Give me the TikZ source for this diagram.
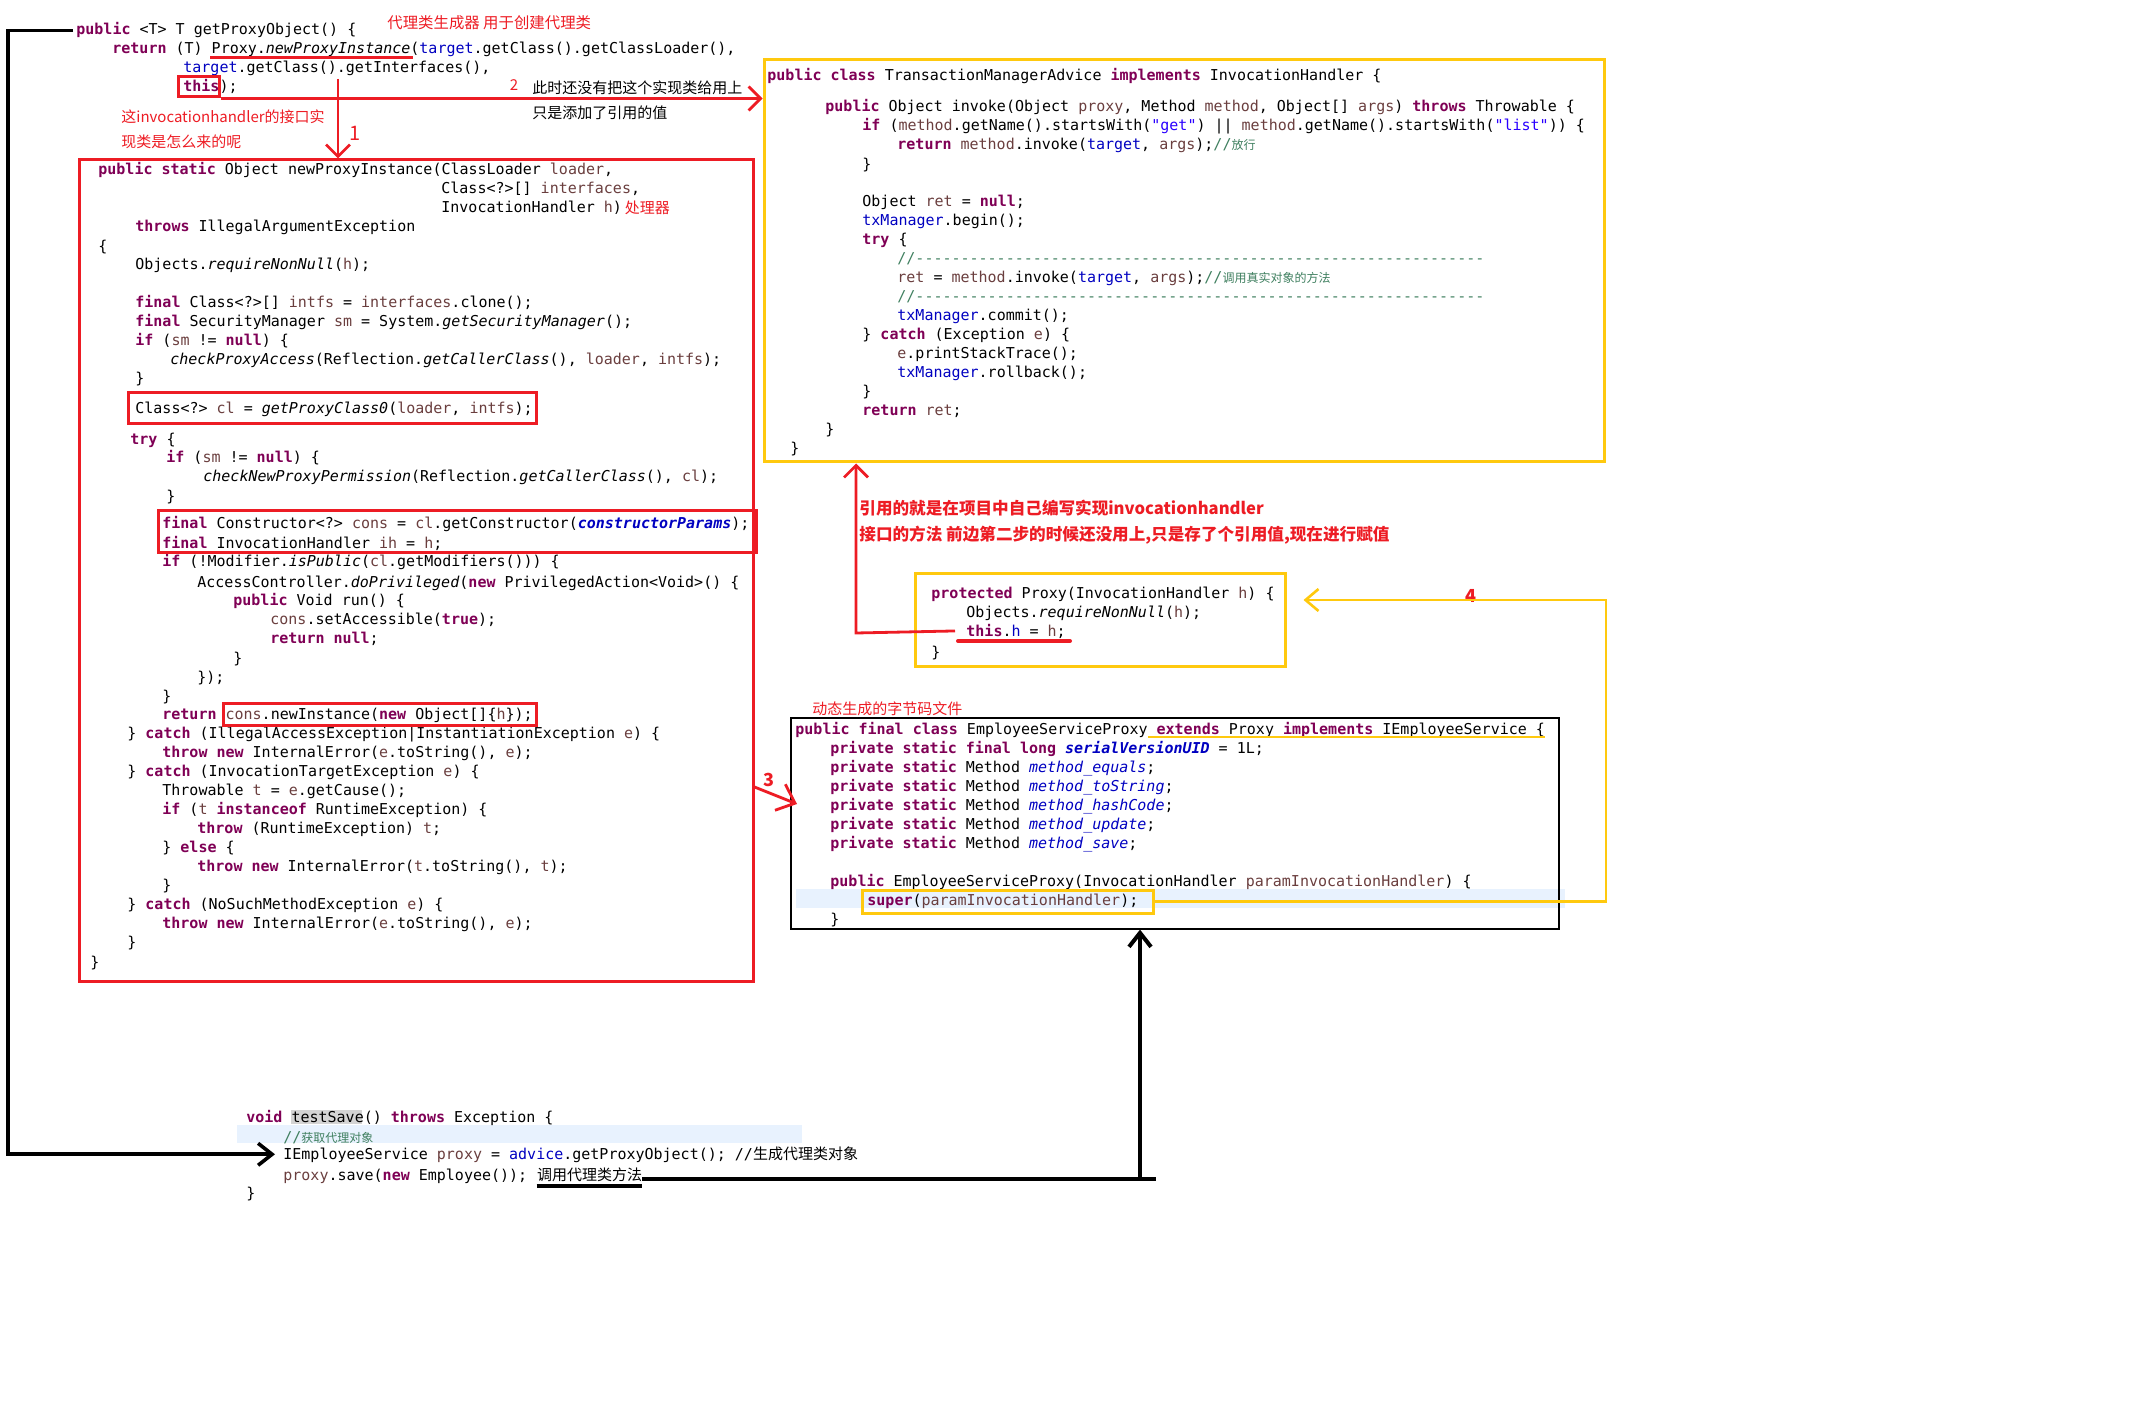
\documentclass[tikz,border=0pt]{standalone}
\usepackage{fontspec}
\setmonofont{DejaVu Sans Mono}
\newfontfamily\cjk{Noto Sans CJK SC}
\usepackage{tikz}
\usetikzlibrary{positioning,fit,arrows.meta}

\definecolor{markred}{RGB}{237,28,36}
\definecolor{markyellow}{RGB}{255,201,14}
\definecolor{jkey}{RGB}{127,0,85}
\definecolor{jvar}{RGB}{106,62,62}
\definecolor{jfield}{RGB}{0,0,192}
\definecolor{jcom}{RGB}{63,127,95}
\definecolor{jstr}{RGB}{42,0,255}
\definecolor{lineband}{RGB}{232,242,254}
\definecolor{wordband}{RGB}{212,212,212}

\newcommand{\cdkw}[1]{\textcolor{jkey}{\bfseries #1}}
\newcommand{\cdvar}[1]{\textcolor{jvar}{#1}}
\newcommand{\cdfld}[1]{\textcolor{jfield}{#1}}
\newcommand{\cdcom}[1]{\textcolor{jcom}{#1}}
\newcommand{\cdstr}[1]{\textcolor{jstr}{#1}}
\newcommand{\cdcn}[1]{{\cjk\fontsize{6pt}{8pt}\selectfont #1}}
\newcommand{\dashline}{//---------------------------------------------------------------}

\tikzset{
	code/.style={anchor=base west, inner sep=0pt, font=\ttfamily\fontsize{7.5pt}{9.5pt}\selectfont},
	note/.style={anchor=west, inner sep=0pt, font=\cjk\fontsize{7.5pt}{9.5pt}\selectfont},
	rednote/.style={note, text=markred},
	stepnum/.style={inner sep=0pt, font=\cjk\fontsize{9pt}{10pt}\selectfont},
	redbox/.style={draw=markred, line width=1.5pt, inner sep=0pt},
	yellowbox/.style={draw=markyellow, line width=1.5pt, inner sep=0pt},
	plainbox/.style={draw=black, line width=0.6pt, inner sep=0pt},
	redarrow/.style={draw=markred, line width=1.4pt, -{Straight Barb[length=6pt,width=12pt]}},
	yellowarrow/.style={draw=markyellow, line width=1.3pt, -{Straight Barb[length=6.5pt,width=11pt]}},
	blackarrow/.style={draw=black, line width=2pt, -{Straight Barb[length=7pt,width=11pt]}},
}

\begin{document}
\begin{tikzpicture}[x=0.5pt, y=-0.5pt]
	\useasboundingbox (0,0) rectangle (2140,1422);
	
	% Highlights behind the code
	\fill[lineband] (796,889) rectangle (1565,908);
	\fill[lineband] (237,1125) rectangle (802,1143);
	\fill[wordband] (291,1110) rectangle (362,1124);
	
	% getProxyObject
	\node[code] (gp1) at (76,35) {\cdkw{public} <T> T getProxyObject() \{};
	\node[code] (gp2) at (112,54) {\cdkw{return} (T) Proxy.\textit{newProxyInstance}(\cdfld{target}.getClass().getClassLoader(),};
	\node[code] (gp3) at (183,73) {\cdfld{target}.getClass().getInterfaces(),};
	\node[code] (gp4) at (183,92) {\cdkw{this});};
	\node[rednote, font=\cjk\fontsize{7.7pt}{10pt}\selectfont] (gennote) at (387,23) {代理类生成器 用于创建代理类};
	\node[rednote] (whynote1) at (121,117) {这invocationhandler的接口实};
	\node[rednote] (whynote2) at (121,142) {现类是怎么来的呢};
	\node[note] (step2a) at (532,88) {此时还没有把这个实现类给用上};
	\node[note] (step2b) at (532,113) {只是添加了引用的值};
	\draw[markred, line width=1.5pt] (210,58) -- (413,58);
	
	% Proxy.newProxyInstance
	\node[code] (np1) at (98,175) {\cdkw{public static} Object newProxyInstance(ClassLoader \cdvar{loader},};
	\node[code] (np2) at (441,194) {Class<?>[] \cdvar{interfaces},};
	\node[code] (np3) at (441,213) {InvocationHandler \cdvar{h})};
	\node[rednote, right=1pt of np3] (hnote) {处理器};
	\node[code] (np4) at (135,232) {\cdkw{throws} IllegalArgumentException};
	\node[code] (np5) at (98,252) {\{};
	\node[code] (np6) at (135,270) {Objects.\textit{requireNonNull}(\cdvar{h});};
	\node[code] (np7) at (135,308) {\cdkw{final} Class<?>[] \cdvar{intfs} = \cdvar{interfaces}.clone();};
	\node[code] (np8) at (135,327) {\cdkw{final} SecurityManager \cdvar{sm} = System.\textit{getSecurityManager}();};
	\node[code] (np9) at (135,346) {\cdkw{if} (\cdvar{sm} != \cdkw{null}) \{};
	\node[code] (np10) at (170,365) {\textit{checkProxyAccess}(Reflection.\textit{getCallerClass}(), \cdvar{loader}, \cdvar{intfs});};
	\node[code] (np11) at (135,384) {\}};
	\node[code] (np12) at (135,414) {Class<?> \cdvar{cl} = \textit{getProxyClass0}(\cdvar{loader}, \cdvar{intfs});};
	\node[code] (np13) at (130,445) {\cdkw{try} \{};
	\node[code] (np14) at (166,463) {\cdkw{if} (\cdvar{sm} != \cdkw{null}) \{};
	\node[code] (np15) at (203,482) {\textit{checkNewProxyPermission}(Reflection.\textit{getCallerClass}(), \cdvar{cl});};
	\node[code] (np16) at (166,502) {\}};
	\node[code] (np17) at (162,529) {\cdkw{final} Constructor<?> \cdvar{cons} = \cdvar{cl}.getConstructor(\textcolor{jfield}{\bfseries\itshape constructorParams});};
	\node[code] (np18) at (162,548) {\cdkw{final} InvocationHandler \cdvar{ih} = \cdvar{h};};
	\node[code] (np19) at (162,567) {\cdkw{if} (!Modifier.\textit{isPublic}(\cdvar{cl}.getModifiers())) \{};
	\node[code] (np20) at (197,587) {AccessController.\textit{doPrivileged}(\cdkw{new} PrivilegedAction<Void>() \{};
	\node[code] (np21) at (233,605) {\cdkw{public} Void run() \{};
	\node[code] (np22) at (270,624) {\cdvar{cons}.setAccessible(\cdkw{true});};
	\node[code] (np23) at (270,643) {\cdkw{return null};};
	\node[code] (np24) at (233,663) {\}};
	\node[code] (np25) at (197,682) {\});};
	\node[code] (np26) at (162,701) {\}};
	\node[code] (np27) at (162,719) {\cdkw{return} \cdvar{cons}.newInstance(\cdkw{new} Object[]\{\cdvar{h}\});};
	\node[code] (np28) at (127,738) {\} \cdkw{catch} (IllegalAccessException|InstantiationException \cdvar{e}) \{};
	\node[code] (np29) at (162,757) {\cdkw{throw new} InternalError(\cdvar{e}.toString(), \cdvar{e});};
	\node[code] (np30) at (127,776) {\} \cdkw{catch} (InvocationTargetException \cdvar{e}) \{};
	\node[code] (np31) at (162,795) {Throwable \cdvar{t} = \cdvar{e}.getCause();};
	\node[code] (np32) at (162,814) {\cdkw{if} (\cdvar{t} \cdkw{instanceof} RuntimeException) \{};
	\node[code] (np33) at (197,833) {\cdkw{throw} (RuntimeException) \cdvar{t};};
	\node[code] (np34) at (162,852) {\} \cdkw{else} \{};
	\node[code] (np35) at (197,871) {\cdkw{throw new} InternalError(\cdvar{t}.toString(), \cdvar{t});};
	\node[code] (np36) at (162,890) {\}};
	\node[code] (np37) at (127,909) {\} \cdkw{catch} (NoSuchMethodException \cdvar{e}) \{};
	\node[code] (np38) at (162,928) {\cdkw{throw new} InternalError(\cdvar{e}.toString(), \cdvar{e});};
	\node[code] (np39) at (127,947) {\}};
	\node[code] (np40) at (90,967) {\}};
	
	% TransactionManagerAdvice
	\node[code] (ta1) at (767,81) {\cdkw{public class} TransactionManagerAdvice \cdkw{implements} InvocationHandler \{};
	\node[code] (ta2) at (825,112) {\cdkw{public} Object invoke(Object \cdvar{proxy}, Method \cdvar{method}, Object[] \cdvar{args}) \cdkw{throws} Throwable \{};
	\node[code] (ta3) at (862,131) {\cdkw{if} (\cdvar{method}.getName().startsWith(\cdstr{"get"}) || \cdvar{method}.getName().startsWith(\cdstr{"list"})) \{};
	\node[code] (ta4) at (897,150) {\cdkw{return} \cdvar{method}.invoke(\cdfld{target}, \cdvar{args});\cdcom{//\cdcn{放行}}};
	\node[code] (ta5) at (862,170) {\}};
	\node[code] (ta6) at (862,207) {Object \cdvar{ret} = \cdkw{null};};
	\node[code] (ta7) at (862,226) {\cdfld{txManager}.begin();};
	\node[code] (ta8) at (862,245) {\cdkw{try} \{};
	\node[code] (ta9) at (897,264) {\cdcom{\dashline}};
	\node[code] (ta10) at (897,283) {\cdvar{ret} = \cdvar{method}.invoke(\cdfld{target}, \cdvar{args});\cdcom{//\cdcn{调用真实对象的方法}}};
	\node[code] (ta11) at (897,302) {\cdcom{\dashline}};
	\node[code] (ta12) at (897,321) {\cdfld{txManager}.commit();};
	\node[code] (ta13) at (862,340) {\} \cdkw{catch} (Exception \cdvar{e}) \{};
	\node[code] (ta14) at (897,359) {\cdvar{e}.printStackTrace();};
	\node[code] (ta15) at (897,378) {\cdfld{txManager}.rollback();};
	\node[code] (ta16) at (862,397) {\}};
	\node[code] (ta17) at (862,416) {\cdkw{return} \cdvar{ret};};
	\node[code] (ta18) at (825,435) {\}};
	\node[code] (ta19) at (790,454) {\}};
	\node[rednote, font=\cjk\bfseries\fontsize{8.3pt}{10pt}\selectfont] (refnote1) at (859,508) {引用的就是在项目中自己编写实现invocationhandler};
	\node[rednote, font=\cjk\bfseries\fontsize{8.3pt}{10pt}\selectfont] (refnote2) at (859,535) {接口的方法 前边第二步的时候还没用上,只是存了个引用值,现在进行赋值};
	
	% Proxy constructor
	\node[code] (pc1) at (931,598) {\cdkw{protected} Proxy(InvocationHandler \cdvar{h}) \{};
	\node[code] (pc2) at (966,617) {Objects.\textit{requireNonNull}(\cdvar{h});};
	\node[code] (pc3) at (966,636) {\cdkw{this}.\cdfld{h} = \cdvar{h};};
	\node[code] (pc4) at (931,657) {\}};
	\draw[markred, line width=2pt, line cap=round] (958,641) -- (1070,641);
	
	% EmployeeServiceProxy
	\node[rednote] (bytenote) at (812,709) {动态生成的字节码文件};
	\node[code] (ep1) at (795,734) {\cdkw{public final class} EmployeeServiceProxy \cdkw{extends} Proxy \cdkw{implements} IEmployeeService \{};
	\node[code] (ep2) at (830,753) {\cdkw{private static final long} \textcolor{jfield}{\bfseries\itshape serialVersionUID} = 1L;};
	\node[code] (ep3) at (830,772) {\cdkw{private static} Method \textcolor{jfield}{\itshape method\_equals};};
	\node[code] (ep4) at (830,791) {\cdkw{private static} Method \textcolor{jfield}{\itshape method\_toString};};
	\node[code] (ep5) at (830,810) {\cdkw{private static} Method \textcolor{jfield}{\itshape method\_hashCode};};
	\node[code] (ep6) at (830,829) {\cdkw{private static} Method \textcolor{jfield}{\itshape method\_update};};
	\node[code] (ep7) at (830,848) {\cdkw{private static} Method \textcolor{jfield}{\itshape method\_save};};
	\node[code] (ep8) at (830,886) {\cdkw{public} EmployeeServiceProxy(InvocationHandler \cdvar{paramInvocationHandler}) \{};
	\node[code] (ep9) at (867,905) {\cdkw{super}(\cdvar{paramInvocationHandler});};
	\node[code] (ep10) at (830,924) {\}};
	\draw[markyellow, line width=1.3pt] (1148,737) -- (1545,737);
	
	% testSave
	\node[code] (ts1) at (246,1122) {\cdkw{void} testSave() \cdkw{throws} Exception \{};
	\node[code] (ts2) at (283,1142) {\cdcom{//\cdcn{获取代理对象}}};
	\node[code] (ts3) at (283,1159) {IEmployeeService \cdvar{proxy} = \cdfld{advice}.getProxyObject(); //{\cjk\fontsize{7.5pt}{9.5pt}\selectfont 生成代理类对象}};
	\node[code] (ts4) at (283,1180) {\cdvar{proxy}.save(\cdkw{new} Employee());};
	\node[note, right=4.5pt of ts4.base east, anchor=base west] (callnote) {调用代理类方法};
	\node[code] (ts5) at (246,1198) {\}};
	
	% Boxes
	\node[redbox, fit={(178,77) (219,97)}] (thisbox) {};
	\node[redbox, fit={(79,160) (753,981)}] (npbox) {};
	\node[redbox, fit={(128,393) (536,424)}] (clbox) {};
	\node[redbox, fit={(158,511) (756,552)}] (consbox) {};
	\node[redbox, fit={(223,703) (536,725)}] (newbox) {};
	\node[yellowbox, fit={(764,60) (1604,462)}] (tabox) {};
	\node[yellowbox, fit={(915,573) (1285,666)}] (pcbox) {};
	\node[plainbox, fit={(791,718) (1559,929)}] (epbox) {};
	\node[yellowbox, fit={(862,890) (1153,913)}] (superbox) {};
	
	% Step numbers
	\node[stepnum, text=markred, font=\cjk\fontsize{10pt}{12pt}\selectfont] (num1) at (355,133) {1};
	\node[stepnum, text=markred, font=\cjk\fontsize{7.5pt}{9pt}\selectfont] (num2) at (514,85) {2};
	\node[stepnum, text=markred, font=\cjk\bfseries\fontsize{9pt}{10pt}\selectfont] (num3) at (769,780) {3};
	\node[stepnum, text=markred, font=\cjk\bfseries\fontsize{9pt}{10pt}\selectfont] (num4) at (1471,596) {4};
	
	% Connect the nodes
	\coordinate (arr1) at (338,79);
	\coordinate (arr3a) at (753,787);
	\coordinate (arr3b) at (797,804);
	\coordinate (arr4) at (856,633);
	\coordinate (y4) at (1606,600);
	\coordinate (lx) at (8,600);
	\coordinate (bturn) at (1140,1179);
	\draw[redarrow] (arr1) -- (arr1 |- npbox.north);
	\draw[redarrow] (thisbox.south east) -- (thisbox.south east -| tabox.west);
	\draw[redarrow, -{Straight Barb[length=8pt,width=14pt]}] (npbox.east |- arr3a) -- (arr3b);
	\draw[redarrow] ([xshift=-5.5pt]pc3.west) -- (arr4) -- (arr4 |- tabox.south);
	\draw[yellowarrow] (superbox.east) -| (y4) -- ([xshift=8.5pt]pcbox.east |- y4);
	\draw[blackarrow, line width=1.8pt] ([xshift=-1.5pt]gp1.west) -| (lx) |- ([xshift=-4pt]ts3.west);
	\draw[draw=black, line width=2pt] (callnote.east |- bturn) -- (bturn) -- ++(16,0);
	\draw[blackarrow] (bturn) -- (bturn |- epbox.south);
	\draw[draw=black, line width=2pt] ([yshift=-2pt]callnote.south west) -- ([yshift=-2pt]callnote.south east);
\end{tikzpicture}
\end{document}
